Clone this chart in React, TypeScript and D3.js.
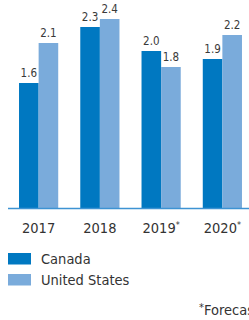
import React, { useRef, useEffect } from 'react';
import * as d3 from 'd3';

const years = ['2017', '2018', '2019', '2020'];
const forecast = [false, false, true, true];
const series = ['Canada', 'United States'];
const canada = [1.6, 2.3, 2.0, 1.9];
const unitedStates = [2.1, 2.4, 1.8, 2.2];
const colors = ['#0078c1', '#7aabdb'];

const font = "'Liberation Sans Narrow', 'DejaVu Sans Condensed', sans-serif";

const App = () => {
  const svgRef = useRef<SVGSVGElement>(null);

  useEffect(() => {
    const svg = d3.select(svgRef.current);
    svg.selectAll('*').remove();

    const width = 249;
    const baseY = 208;

    const x0 = d3.scaleBand()
      .domain(years)
      .range([8, 253])
      .paddingInner(0.36)
      .paddingOuter(0.18);

    const x1 = d3.scaleBand()
      .domain(series)
      .range([0, x0.bandwidth()]);

    const y = d3.scaleLinear()
      .domain([0, 2.4])
      .range([211, 19]);

    const rows = years.map((yr, i) => ({
      year: yr,
      values: [
        { key: series[0], value: canada[i] },
        { key: series[1], value: unitedStates[i] },
      ],
    }));

    const g = svg.append('g')
      .selectAll('g')
      .data(rows)
      .enter().append('g')
      .attr('transform', d => `translate(${x0(d.year)},0)`);

    g.selectAll('rect')
      .data(d => d.values)
      .enter().append('rect')
      .attr('x', d => x1(d.key)!)
      .attr('y', d => y(d.value))
      .attr('width', x1.bandwidth())
      .attr('height', d => baseY - y(d.value))
      .attr('fill', (d, i) => colors[i]);

    g.selectAll('text.val')
      .data(d => d.values)
      .enter().append('text')
      .attr('class', 'val')
      .attr('x', d => x1(d.key)! + x1.bandwidth() / 2)
      .attr('y', d => y(d.value) - 6)
      .attr('text-anchor', 'middle')
      .attr('font-family', font)
      .attr('font-size', 11.5)
      .attr('fill', '#3a3a3a')
      .text(d => d.value.toFixed(1));

    // baseline
    svg.append('line')
      .attr('x1', 8)
      .attr('x2', width)
      .attr('y1', baseY + 0.5)
      .attr('y2', baseY + 0.5)
      .attr('stroke', '#3d93d3')
      .attr('stroke-width', 1.5);

    // year labels
    const yl = svg.append('g')
      .selectAll('text')
      .data(years)
      .enter().append('text')
      .attr('x', d => x0(d)! + x0.bandwidth() / 2)
      .attr('y', 233)
      .attr('text-anchor', 'middle')
      .attr('font-family', font)
      .attr('font-size', 14.5)
      .attr('fill', '#333');
    yl.append('tspan').text(d => d);
    yl.append('tspan')
      .attr('dy', -5)
      .attr('font-size', 9)
      .text((d, i) => (forecast[i] ? '*' : ''));

    // legend
    const leg = svg.append('g')
      .selectAll('g')
      .data(series)
      .enter().append('g')
      .attr('transform', (d, i) => `translate(8,${253 + i * 21})`);
    leg.append('rect')
      .attr('width', 23)
      .attr('height', 11.5)
      .attr('fill', (d, i) => colors[i]);
    leg.append('text')
      .attr('x', 33)
      .attr('y', 11)
      .attr('font-family', font)
      .attr('font-size', 14.5)
      .attr('fill', '#333')
      .text(d => d);

    // footnote
    const fn = svg.append('text')
      .attr('x', 199)
      .attr('y', 315)
      .attr('font-family', font)
      .attr('font-size', 14.5)
      .attr('fill', '#333');
    fn.append('tspan').attr('font-size', 11).attr('dy', -4).text('*');
    fn.append('tspan').attr('dy', 4).text('Forecast');
  }, []);

  return (
    <svg
      ref={svgRef}
      width="249"
      height="320"
      style={{ position: 'absolute', left: 0, top: 0 }}
    ></svg>
  );
};

export default App;
